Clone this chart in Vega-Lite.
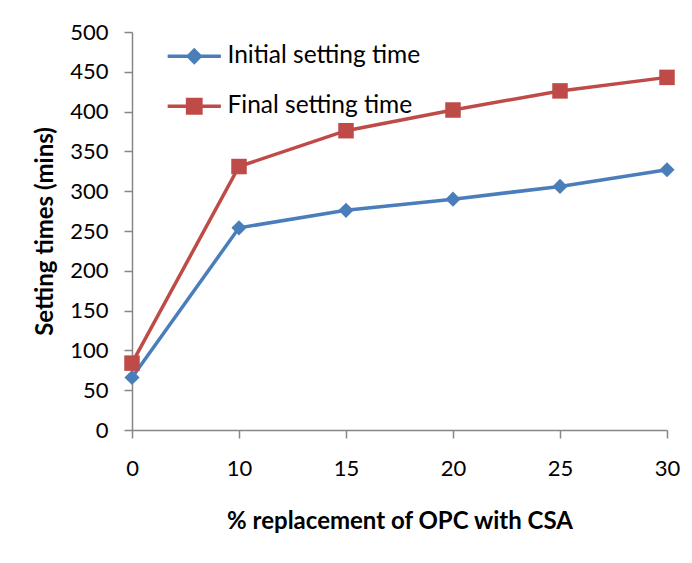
{
  "$schema": "https://vega.github.io/schema/vega-lite/v6.json",
  "width": 535,
  "height": 398,
  "autosize": {"type": "none"},
  "padding": {"left": 132, "top": 32, "right": 25, "bottom": 133},
  "background": "white",
  "config": {
    "view": {"stroke": null},
    "font": "Lato",
    "axis": {
      "grid": false,
      "domainColor": "#868686",
      "tickColor": "#868686",
      "domainWidth": 1.5,
      "tickWidth": 1.5,
      "tickSize": 8,
      "labelColor": "black",
      "labelFont": "Lato",
      "labelFontSize": 22,
      "titleColor": "black",
      "titleFont": "Lato",
      "titleFontSize": 24,
      "titleFontWeight": "bold"
    },
    "legend": {
      "orient": "none",
      "legendX": 50,
      "legendY": 12,
      "padding": 0,
      "symbolSize": 196,
      "symbolStrokeWidth": 3,
      "labelOffset": 21,
      "labelFont": "Lato",
      "labelFontSize": 24.5,
      "labelColor": "black",
      "labelLimit": 0,
      "rowPadding": 22
    }
  },
  "data": {
    "values": [
      {"pct": 0, "series": "Initial setting time", "value": 66},
      {"pct": 10, "series": "Initial setting time", "value": 254},
      {"pct": 15, "series": "Initial setting time", "value": 276},
      {"pct": 20, "series": "Initial setting time", "value": 290},
      {"pct": 25, "series": "Initial setting time", "value": 306},
      {"pct": 30, "series": "Initial setting time", "value": 327},
      {"pct": 0, "series": "Final setting time", "value": 84},
      {"pct": 10, "series": "Final setting time", "value": 331},
      {"pct": 15, "series": "Final setting time", "value": 376},
      {"pct": 20, "series": "Final setting time", "value": 402},
      {"pct": 25, "series": "Final setting time", "value": 426},
      {"pct": 30, "series": "Final setting time", "value": 443}
    ]
  },
  "encoding": {
    "x": {
      "field": "pct",
      "type": "ordinal",
      "scale": {"type": "point", "padding": 0},
      "axis": {"labelAngle": 0, "labelPadding": 20, "title": "% replacement of OPC with CSA", "titlePadding": 30}
    },
    "y": {
      "field": "value",
      "type": "quantitative",
      "scale": {"domain": [0, 500], "nice": false},
      "axis": {"values": [0, 50, 100, 150, 200, 250, 300, 350, 400, 450, 500], "labelPadding": 16, "title": "Setting times (mins)", "titlePadding": 12}
    }
  },
  "layer": [
    {
      "transform": [{"filter": "datum.series === 'Initial setting time'"}],
      "mark": {"type": "line", "strokeWidth": 3.5, "color": "#4A7EBB"}
    },
    {
      "transform": [{"filter": "datum.series === 'Final setting time'"}],
      "mark": {"type": "line", "strokeWidth": 3.5, "color": "#BE4B48"}
    },
    {
      "transform": [{"filter": "datum.series === 'Initial setting time'"}],
      "mark": {"type": "point", "shape": "diamond", "filled": true, "size": 230, "opacity": 1, "color": "#4A7EBB"}
    },
    {
      "transform": [{"filter": "datum.series === 'Final setting time'"}],
      "mark": {"type": "point", "shape": "square", "filled": true, "size": 240, "opacity": 1, "color": "#BE4B48"}
    },
    {
      "mark": {"type": "point", "filled": true, "opacity": 0},
      "encoding": {
        "color": {
          "field": "series",
          "type": "nominal",
          "scale": {"domain": ["Initial setting time", "Final setting time"], "range": ["#4A7EBB", "#BE4B48"]},
          "legend": {
            "title": null,
            "encode": {
              "symbols": {"update": {"stroke": {"scale": "color", "field": "value"}, "strokeWidth": {"value": 3.5}, "opacity": {"value": 1}}}
            }
          }
        },
        "shape": {
          "field": "series",
          "type": "nominal",
          "scale": {
            "domain": ["Initial setting time", "Final setting time"],
            "range": ["M-3.8,0H3.8M0,-0.85L0.85,0L0,0.85L-0.85,0Z", "M-3.8,0H3.8M-0.95,-0.95H0.95V0.95H-0.95Z"]
          },
          "legend": {"title": null}
        }
      }
    }
  ]
}
